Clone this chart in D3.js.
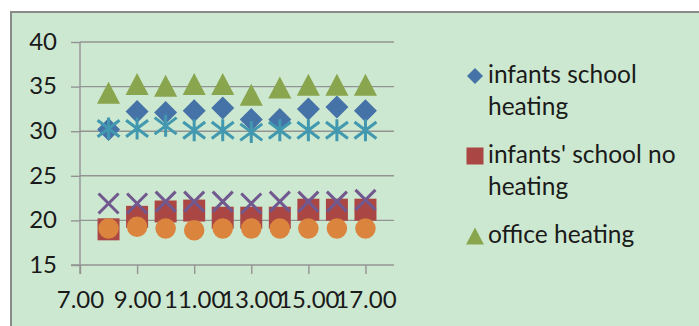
<!DOCTYPE html>
<html>
<head>
<meta charset="utf-8">
<script src="https://cdn.jsdelivr.net/npm/d3@7"></script>
<style>
  html, body { margin: 0; padding: 0; background: #ffffff; }
  svg { display: block; }
  text { font-family: Lato, "Open Sans", "Liberation Sans", sans-serif; fill: #1a1a1a; }
</style>
</head>
<body>
<svg id="chart" width="699" height="326"></svg>
<script>
// Hours of the day sampled
const hours = [8, 9, 10, 11, 12, 13, 14, 15, 16, 17];

// Temperatures (°C) per series
const infantsHeating   = [30.2, 32.2, 32.1, 32.3, 32.6, 31.3, 31.3, 32.5, 32.7, 32.3];
const infantsNoHeating = [19.0, 20.4, 21.0, 21.1, 20.3, 20.3, 20.3, 21.2, 21.2, 21.2];
const officeHeating    = [34.3, 35.3, 35.1, 35.3, 35.3, 34.1, 34.9, 35.2, 35.2, 35.2];
const series4          = [21.9, 21.9, 22.1, 22.1, 22.1, 21.9, 22.1, 22.1, 22.1, 22.3];
const series5          = [30.3, 30.3, 30.6, 30.1, 30.1, 29.9, 30.1, 30.1, 30.1, 30.1];
const series6          = [19.1, 19.3, 19.1, 18.9, 19.1, 19.1, 19.1, 19.1, 19.1, 19.1];

const seriesNames = ["infants school heating", "infants' school no heating", "office heating",
                     "series 4", "series 5", "series 6"];
const seriesValues = [infantsHeating, infantsNoHeating, officeHeating, series4, series5, series6];
const seriesColors = ["#4572a7", "#aa4643", "#89a54e", "#71588f", "#4198af", "#db843d"];
const seriesShapes = ["diamond", "square", "triangle", "x", "star", "circle"];

// Legend lines (only the first three entries fit)
const legendLines = [["infants school", "heating"], ["infants' school no", "heating"], ["office heating"]];

const xTicks = [7, 9, 11, 13, 15, 17];
const yTicks = [15, 20, 25, 30, 35, 40];

const svg = d3.select("#chart");

// Chart area
svg.append("rect")
  .attr("x", 11).attr("y", 12)
  .attr("width", 720).attr("height", 340)
  .attr("fill", "#cde8d0")
  .attr("stroke", "#8a8a8a")
  .attr("stroke-width", 2);

const x = d3.scaleLinear().domain([7, 18]).range([80, 394]);
const y = d3.scaleLinear().domain([15, 40]).range([265, 42]);

const gridColor = "#939393";

// Horizontal gridlines
svg.append("g")
  .selectAll("line")
  .data(yTicks.filter(t => t > 15))
  .join("line")
  .attr("x1", x(7)).attr("x2", x(18))
  .attr("y1", d => y(d)).attr("y2", d => y(d))
  .attr("stroke", gridColor).attr("stroke-width", 1.4);

// Axes
const yAxis = svg.append("g")
  .attr("transform", `translate(${x(7)},0)`)
  .call(d3.axisLeft(y).tickValues(yTicks).tickFormat(d3.format("d")).tickSize(9).tickPadding(14));
const xAxis = svg.append("g")
  .attr("transform", `translate(0,${y(15)})`)
  .call(d3.axisBottom(x).tickValues(xTicks).tickFormat(d3.format(".2f")).tickSize(9).tickPadding(17));

[xAxis, yAxis].forEach(g => {
  g.select(".domain").attr("stroke", gridColor).attr("stroke-width", 1.4);
  g.selectAll(".tick line").attr("stroke", gridColor).attr("stroke-width", 1.4);
  g.selectAll(".tick text")
    .style("font-family", "Lato, 'Open Sans', sans-serif")
    .attr("font-size", 24).attr("fill", "#1a1a1a");
});
yAxis.selectAll(".tick text").attr("dy", "0.3em");
xAxis.selectAll(".tick text").attr("dy", "0.71em");
// extend the vertical axis down to the category tick length
yAxis.select(".domain").attr("d", `M0,${y(40)}V${y(15) + 9}`);
xAxis.select(".domain").attr("d", `M${x(7) - 9},0H${x(18)}`);

// Marker path generators, centred on (0,0)
function markerPath(shape, s) {
  const h = s / 2;
  switch (shape) {
    case "diamond": return `M0,${-h}L${h},0L0,${h}L${-h},0Z`;
    case "square": return `M${-h},${-h}H${h}V${h}H${-h}Z`;
    case "triangle": return `M0,${-h}L${h * 1.05},${h}L${-h * 1.05},${h}Z`;
    case "circle": return `M${h},0A${h},${h} 0 1,1 ${-h},0A${h},${h} 0 1,1 ${h},0Z`;
    case "x": return `M${-h},${-h}L${h},${h}M${h},${-h}L${-h},${h}`;
    case "star": return `M${-h},${-h * 0.75}L${h},${h * 0.75}M${h},${-h * 0.75}L${-h},${h * 0.75}M0,${-h}V${h}`;
  }
}
const markerSize = { diamond: 23, square: 22, triangle: 22, circle: 20.5, x: 20, star: 22 };

// Data points, one layer per series in drawing order
seriesValues.forEach((vals, i) => {
  const shape = seriesShapes[i];
  const stroked = shape === "x" || shape === "star";
  svg.append("g")
    .selectAll("path")
    .data(hours.map((h, j) => ({ h, v: vals[j] })))
    .join("path")
    .attr("transform", d => `translate(${x(d.h)},${y(d.v)})`)
    .attr("d", markerPath(shape, markerSize[shape]))
    .attr("fill", stroked ? "none" : seriesColors[i])
    .attr("stroke", stroked ? seriesColors[i] : "none")
    .attr("stroke-width", stroked ? 3 : 0)
    .attr("stroke-linecap", "butt");
});

// Legend
const legendTop = [83, 163, 243];
const legend = svg.append("g");
legendLines.forEach((lines, i) => {
  const shape = seriesShapes[i];
  legend.append("path")
    .attr("transform", `translate(475,${legendTop[i] - 7})`)
    .attr("d", markerPath(shape, shape === "diamond" ? 16 : 17))
    .attr("fill", seriesColors[i]);
  lines.forEach((t, k) => {
    legend.append("text")
      .attr("x", 488).attr("y", legendTop[i] + k * 32)
      .attr("font-size", 24.5)
      .text(t);
  });
});
</script>
</body>
</html>
